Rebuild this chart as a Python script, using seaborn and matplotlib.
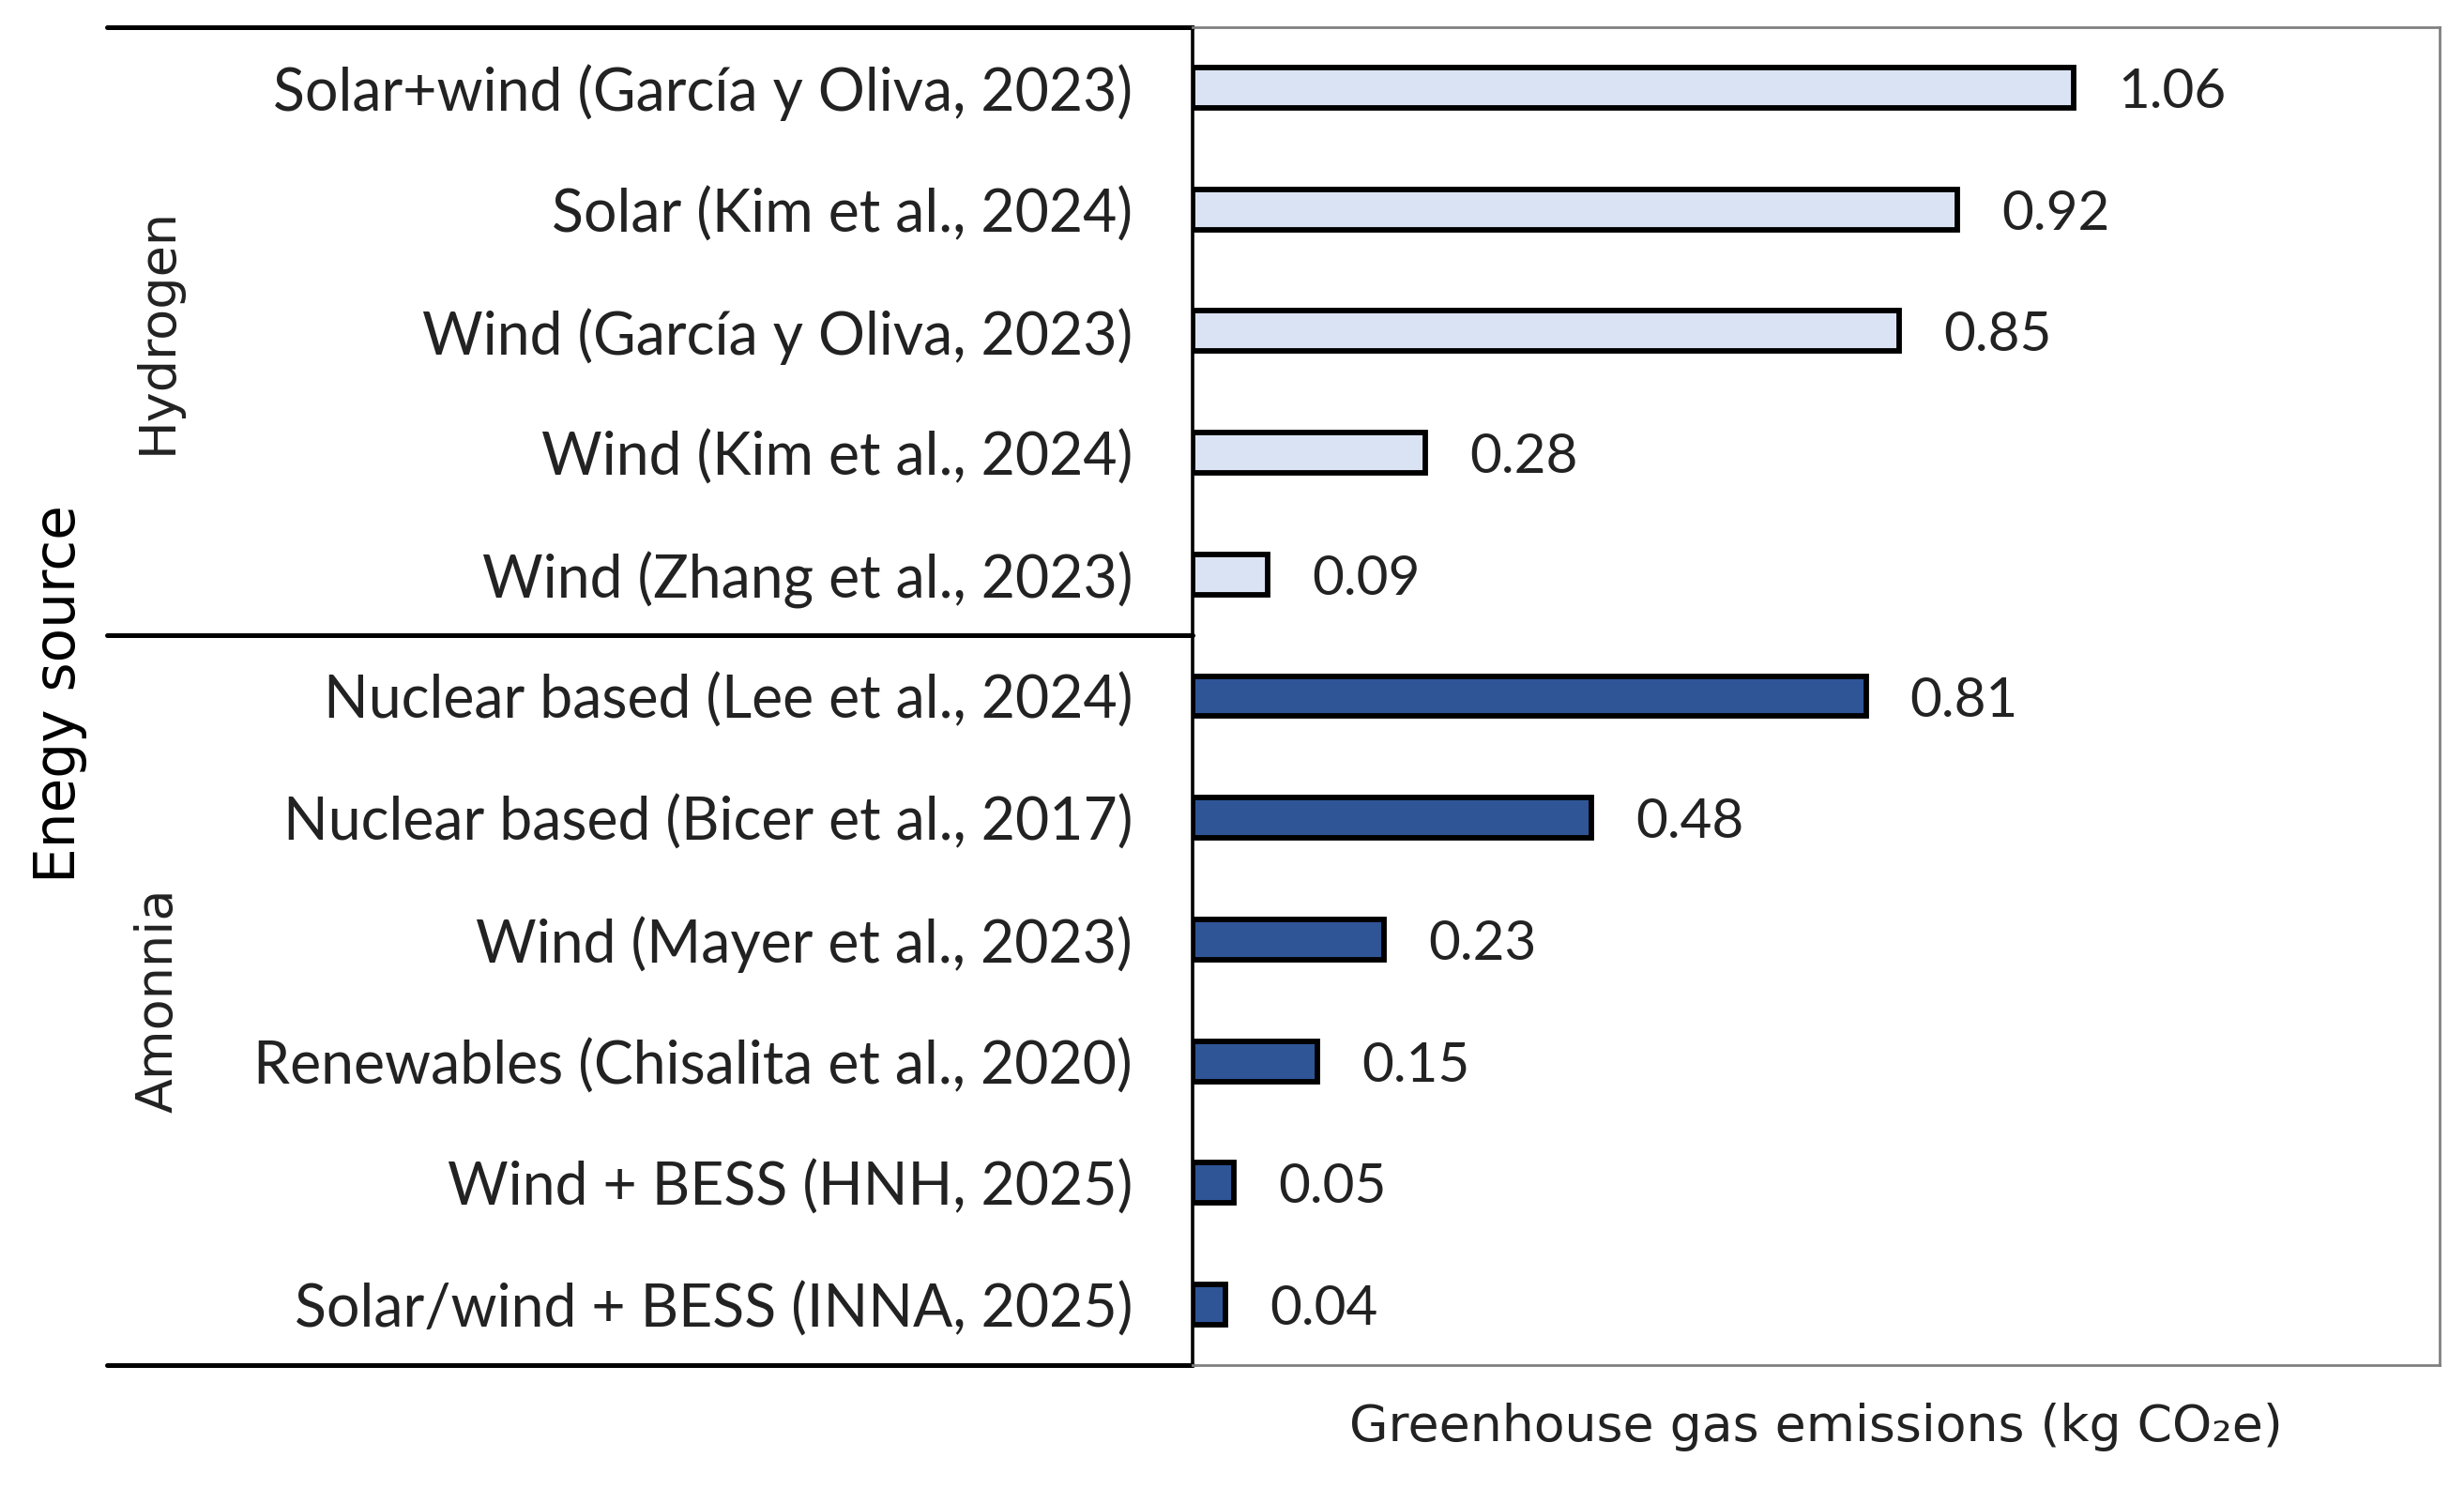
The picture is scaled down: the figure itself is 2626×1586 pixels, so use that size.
import numpy as np
import pandas as pd
import matplotlib
matplotlib.use("Agg")
import matplotlib.pyplot as plt
import seaborn as sns

# data
labels = [
    "Solar+wind (García y Oliva, 2023)",
    "Solar (Kim et al., 2024)",
    "Wind (García y Oliva, 2023)",
    "Wind (Kim et al., 2024)",
    "Wind (Zhang et al., 2023)",
    "Nuclear based (Lee et al., 2024)",
    "Nuclear based (Bicer et al., 2017)",
    "Wind (Mayer et al., 2023)",
    "Renewables (Chisalita et al., 2020)",
    "Wind + BESS (HNH, 2025)",
    "Solar/wind + BESS (INNA, 2025)",
]
values = [1.06, 0.92, 0.85, 0.28, 0.09, 0.81, 0.48, 0.23, 0.15, 0.05, 0.04]
groups = ["Hydrogen"] * 5 + ["Amonnia"] * 6
group_colors = {"Hydrogen": "#DAE3F3", "Amonnia": "#2F5597"}

df = pd.DataFrame({"label": labels, "value": values, "group": groups})

sns.set_theme(style="white")
plt.rcParams["font.family"] = ["Lato", "DejaVu Sans"]

fig = plt.figure(figsize=(13.13, 7.93), dpi=200)
ax = fig.add_axes([0.484, 0.0823, 0.506, 0.8997])

sns.barplot(data=df, y="label", x="value", hue="group", palette=group_colors,
            dodge=False, width=0.33, edgecolor="black", linewidth=2.1,
            saturation=1, legend=False, ax=ax)

for c in ax.containers:
    texts = ax.bar_label(c, fmt="%.2f", padding=17, fontsize=21, color="#222222")
    for t in texts:
        t.set_va("center_baseline")

ax.set_xlim(0, 1.5)
ax.set_ylim(len(labels) - 0.5, -0.5)
ax.set_xticks([])
ax.set_ylabel("")
ax.tick_params(axis="y", length=0, pad=23, labelsize=22.5, labelcolor="#222222")

ax.set_xlabel("Greenhouse gas emissions (kg CO\u2082e)", fontsize=19.3,
              family="DejaVu Sans", color="#222222", va="center")
ax.xaxis.set_label_coords(0.5, -0.046)

for side in ["top", "right", "bottom"]:
    ax.spines[side].set_color("#808080")
    ax.spines[side].set_linewidth(1.0)
ax.spines["left"].set_color("black")
ax.spines["left"].set_linewidth(1.3)

# left-hand table lines
tr = ax.get_yaxis_transform()
x_left = -0.871
for yv in [-0.5, 4.5, len(labels) - 0.5]:
    ax.plot([x_left, 0], [yv, yv], color="black", lw=1.8, transform=tr, clip_on=False)

# group labels
ax.text(-0.83, 2, "Hydrogen", rotation=90, ha="center", va="center",
        fontsize=19.5, family="DejaVu Sans", color="#222222", transform=tr)
ax.text(-0.83, 7.5, "Amonnia", rotation=90, ha="center", va="center",
        fontsize=19.5, family="DejaVu Sans", color="#222222", transform=tr)

fig.text(0.024, 0.534, "Enegy source", rotation=90, ha="center", va="center",
         fontsize=21.5, family="DejaVu Sans", color="black")

fig.savefig("out.png", dpi=200)
